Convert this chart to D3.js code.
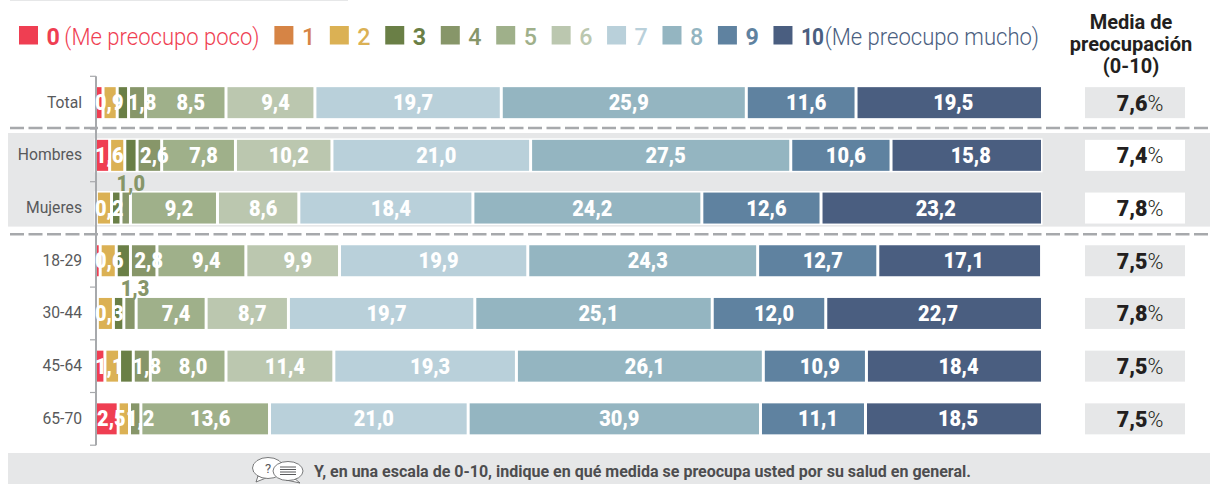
<!DOCTYPE html>
<html><head><meta charset="utf-8">
<script src="https://cdnjs.cloudflare.com/ajax/libs/d3/7.8.5/d3.min.js"></script>
<style>html,body{margin:0;padding:0;background:#fff}svg{display:block}text{font-family:Roboto,sans-serif}</style>
</head><body><svg id="c" width="1210" height="484"></svg>
<script>
const rows = ["Total","Hombres","Mujeres","18-29","30-44","45-64","65-70"];
const legendKeys = ["0","1","2","3","4","5","6","7","8","9","10"];
const legendNotes = {"0":"(Me preocupo poco)","10":"(Me preocupo mucho)"};
const colors = ["#ef3e52","#d68445","#dbb154","#6a7f46","#879669","#9fb08a","#bbc7af","#b9d0da","#94b5c1","#5f82a0","#4a5e80"];
// scores 0..10
const vTotal   = [0.9,0,1.5,1.2,1.8,8.5,9.4,19.7,25.9,11.6,19.5];
const vHombres = [1.6,0,1.6,1.3,2.6,7.8,10.2,21.0,27.5,10.6,15.8];
const vMujeres = [0.2,0,1.6,1.0,1.0,9.2,8.6,18.4,24.2,12.6,23.2];
const v1829    = [0.6,0,1.7,1.5,2.8,9.4,9.9,19.9,24.3,12.7,17.1];
const v3044    = [0.3,0,1.7,1.1,1.3,7.4,8.7,19.7,25.1,12.0,22.7];
const v4564    = [1.1,0,1.55,1.45,1.8,8.0,11.4,19.3,26.1,10.9,18.4];
const v6570    = [2.5,0,1.2,0,1.2,13.6,0,21.0,30.9,11.1,18.5];
const rowValues = [vTotal,vHombres,vMujeres,v1829,v3044,v4564,v6570];
const means = ["7,6","7,4","7,8","7,5","7,8","7,5","7,5"];
const unlabeled = [1,2,3];            // scores whose value is not printed
const raised = {"Mujeres":4,"30-44":4}; // printed above the bar
const shadedRows = ["Hombres","Mujeres"];
const headerLines = ["Media de","preocupación","(0-10)"];
const footer = "Y, en una escala de 0-10, indique en qué medida se preocupa usted por su salud en general.";

const svg = d3.select("#c");
const fmt = v => v.toFixed(1).replace(".",",");
const x = d3.scaleLinear().domain([0,100]).range([94.5,1040.5]);
const y = d3.scaleBand().domain(rows).range([76.3,445.2]).paddingInner(0.355).paddingOuter(0.1775);
const grey="#e6e7e8", rule="#a7a9ac", lastExtra=2, labelSX=0.93;

// top hairline, shaded band, footer strip
svg.append("rect").attr("x",10).attr("y",0).attr("width",338).attr("height",1).attr("fill",grey);
svg.append("rect").attr("x",8).attr("y",133).attr("width",1202).attr("height",93.6).attr("fill",grey);
svg.append("rect").attr("x",8).attr("y",453).attr("width",1202).attr("height",31).attr("fill",grey);
[128,234.3].forEach(yy=>svg.append("line").attr("x1",10).attr("x2",1210).attr("y1",yy).attr("y2",yy)
  .attr("stroke",rule).attr("stroke-width",2.5).attr("stroke-dasharray","14 4.5"));

// legend (flow layout)
const leg = svg.append("g");
let lx = 19;
legendKeys.forEach((k,i)=>{
  leg.append("rect").attr("x",lx).attr("y",26).attr("width",19).attr("height",18.5).attr("fill",colors[i]);
  lx += 27.5;
  const t = leg.append("text").attr("y",45).attr("font-size",24.5)
    .attr("font-weight",(k==="0"||k==="3"||k==="9"||k==="10")?700:500).attr("fill",colors[i]).text(k);
  const sx = k==="10" ? 0.85 : 0.95;
  if(k==="10") t.attr("letter-spacing",-1);
  t.attr("transform",`translate(${lx},0) scale(${sx},1)`);
  lx += t.node().getComputedTextLength()*sx;
  if(legendNotes[k]){
    lx += k==="0" ? 4.5 : 1.5;
    const n = leg.append("text").attr("y",45).attr("font-size",24).attr("font-weight",300).attr("fill",colors[i]).text(legendNotes[k]);
    const w = n.node().getComputedTextLength();
    n.attr("transform",`translate(${lx},0) scale(.92,1)`);
    lx += w*0.92;
  }
  lx += 14.7;
});

// bars
const stack = rows.map((r,ri)=>{let c=0;return rowValues[ri].map((v,s)=>{const d={row:r,s,v,x0:c,x1:c+v};c+=v;return d;}).filter(d=>d.v>0);});
const rowG = svg.selectAll("g.row").data(stack).join("g").attr("class","row");
rowG.selectAll("rect").data(d=>d).join("rect")
  .attr("x",d=>x(d.x0)+1.5).attr("width",d=>Math.max(0,x(d.x1)-x(d.x0)-3)+(d.s===10?lastExtra:0))
  .attr("y",d=>y(d.row)+1.5).attr("height",y.bandwidth()-3)
  .attr("fill",d=>colors[d.s]);
// white halo around the shaded rows
shadedRows.forEach(r=>{
  svg.insert("rect","g.row").attr("x",x(0)).attr("y",y(r)).attr("width",x(100)-x(0)+lastExtra).attr("height",y.bandwidth()).attr("fill","#fff");
});

// axis
const axisG = svg.append("g");
const step = y.step();
const edges = rows.map(r=>y(r)+y.bandwidth()/2-step/2).concat([y(rows[rows.length-1])+y.bandwidth()/2+step/2]);
axisG.append("line").attr("x1",96).attr("x2",96).attr("y1",edges[0]).attr("y2",edges[edges.length-1]).attr("stroke",rule).attr("stroke-width",2);
axisG.selectAll("line.t").data(edges).join("line").attr("class","t").attr("x1",90).attr("x2",96).attr("y1",d=>d).attr("y2",d=>d).attr("stroke",rule).attr("stroke-width",1.2);
axisG.selectAll("text").data(rows).join("text")
  .attr("text-anchor","end").attr("font-size",16).attr("fill","#58595b").text(r=>r)
  .attr("transform",r=>`translate(82,${y(r)+y.bandwidth()/2+5}) scale(.98,1)`);

// value labels
stack.forEach(row=>row.forEach(d=>{
  if(unlabeled.includes(d.s)) return;
  const up = raised[d.row]===d.s;
  const t = svg.append("text").attr("text-anchor","middle").attr("font-size",21.5).attr("font-weight",900)
    .attr("fill",up?colors[4]:"#fff").text(fmt(d.v));
  const w = t.node().getComputedTextLength()*labelSX;
  const cx = Math.max((x(d.x0)+x(d.x1))/2+5, 95+w/2);
  t.attr("transform",`translate(${cx},${y(d.row)+y.bandwidth()/2+(up?-17.5:7.5)}) scale(${labelSX},1)`);
}));

// means column
svg.append("g").selectAll("rect").data(rows).join("rect").attr("x",1085).attr("width",100)
  .attr("y",r=>y(r)+1.5).attr("height",y.bandwidth()-3).attr("fill",r=>shadedRows.includes(r)?"#fff":grey);
svg.append("g").selectAll("text").data(rows).join("text").attr("x",1140).attr("y",r=>y(r)+y.bandwidth()/2+8)
  .attr("text-anchor","middle").attr("font-size",21.5).attr("fill","#231f20")
  .each(function(r,i){const s=d3.select(this);
    s.append("tspan").attr("font-weight",900).text(means[i]);
    s.append("tspan").attr("font-weight",300).text("%");});
svg.append("g").selectAll("text").data(headerLines).join("text").attr("x",1131).attr("y",(d,i)=>[29,51,73][i])
  .attr("text-anchor","middle").attr("font-size",20).attr("font-weight",700).attr("fill","#231f20").text(d=>d);

// footer + icon
svg.append("text").attr("x",314).attr("y",477).attr("font-size",16).attr("font-weight",700).attr("fill","#4d4d4f").text(footer);
const ic = svg.append("g").attr("fill","#fff").attr("stroke","#58595b").attr("stroke-width",.8);
ic.append("path").attr("d","M258 476 L256 482 L266 478 Z");
ic.append("ellipse").attr("cx",268).attr("cy",468).attr("rx",15.5).attr("ry",10.5);
ic.append("path").attr("d","M294 478 L300 483 L286 480 Z");
ic.append("ellipse").attr("cx",288).attr("cy",471).attr("rx",15).attr("ry",9.5);
svg.append("text").attr("x",268).attr("y",473).attr("text-anchor","middle").attr("font-size",13).attr("fill","#58595b").text("?");
[467,469.5,472,474.5].forEach(yy=>svg.append("line").attr("x1",280).attr("x2",296).attr("y1",yy).attr("y2",yy).attr("stroke","#58595b").attr("stroke-width",1));
</script></body></html>
